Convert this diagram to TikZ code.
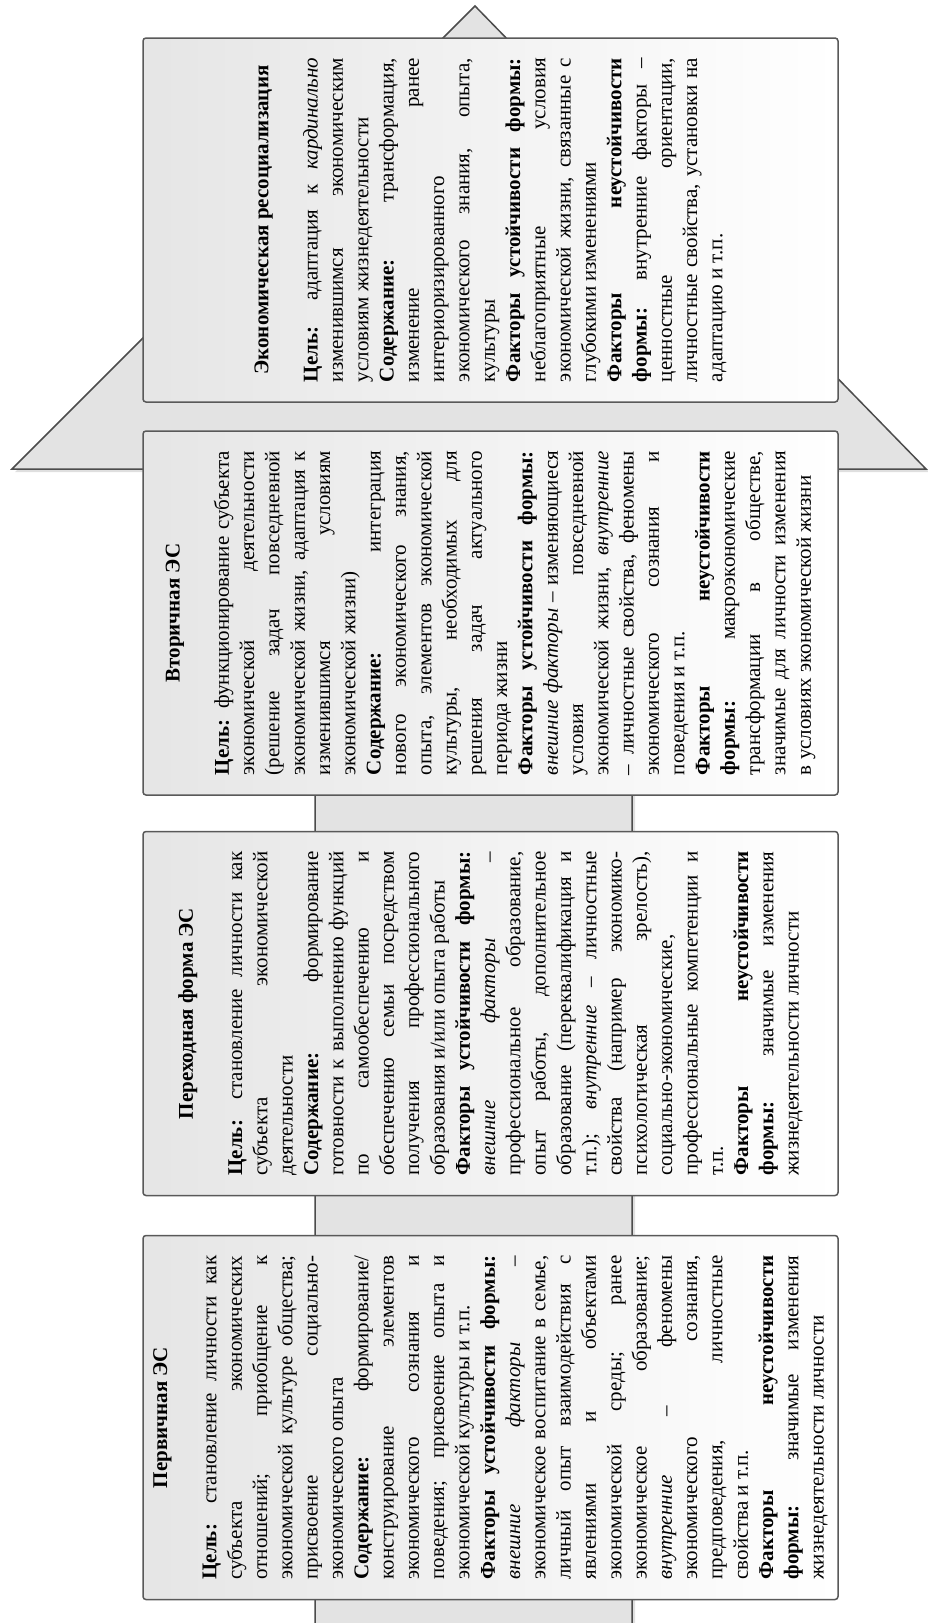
\documentclass[tikz,border=0pt]{standalone}
\usepackage{fontspec}
\setmainfont{Liberation Serif}
\usetikzlibrary{shadows}
\newlength\LW \setlength\LW{324pt}
\newcommand\JL[1]{\hbox to\LW{#1}}
\newcommand\LL[1]{\hbox to\LW{#1\hfil}}
\newcommand\TL[1]{\hbox to\LW{\hfil\textbf{#1}\hfil}\vskip 24pt}
\newcommand\B[1]{\textbf{#1}}
\newcommand\I[1]{\textit{#1}}
\newcommand\blk[1]{\vbox{\fontsize{21}{25.3}\selectfont\baselineskip=25.3pt #1}}
\tikzset{
  esbox/.style={draw=black!65, line width=1.5pt, rounded corners=3pt,
    left color=black!10, right color=white, minimum width=695pt,
    minimum height=364pt, inner sep=0pt},
  estext/.style={rotate=90, inner sep=0pt},
  bigarrow/.style={draw=black!70, line width=1.5pt, fill=black!11, line join=miter,
    drop shadow={shadow xshift=3pt, shadow yshift=-3pt, opacity=0.25}}
}
\begin{document}
\begin{tikzpicture}[x=1pt,y=-1pt]
\useasboundingbox (0,0) rectangle (928,1623);
\fill[white] (0,0) rectangle (928,1623);
% big arrow
\path[bigarrow] (12,469) -- (315,469) -- (315,1640) -- (632,1640) -- (632,469)
  -- (926,469) -- (475,6) -- cycle;
% boxes
\node[esbox] (b4) at (490.5,220) {};
\node[esbox] (b3) at (490.5,613) {};
\node[esbox] (b2) at (490.5,1013.5) {};
\node[esbox] (b1) at (490.5,1417.5) {};
% texts
\node[estext] (t4) at (b4.center) {\blk{%
\TL{Экономическая ресоциализация}
\JL{\B{Цель:} адаптация к \I{кардинально}}
\JL{изменившимся экономическим}
\LL{условиям жизнедеятельности}
\JL{\B{Содержание:} трансформация,}
\JL{изменение ранее}
\LL{интериоризированного}
\JL{экономического знания, опыта,}
\LL{культуры}
\JL{\B{Факторы устойчивости формы:}}
\JL{неблагоприятные условия}
\JL{экономической жизни, связанные с}
\LL{глубокими изменениями}
\JL{\B{Факторы неустойчивости}}
\JL{\B{формы:} внутренние факторы –}
\JL{ценностные ориентации,}
\JL{личностные свойства, установки на}
\LL{адаптацию и т.п.}
}};
\node[estext] (t3) at (b3.center) {\blk{%
\TL{Вторичная ЭС}
\JL{\B{Цель:} функционирование субъекта}
\JL{экономической деятельности}
\JL{(решение задач повседневной}
\JL{экономической жизни, адаптация к}
\JL{изменившимся условиям}
\LL{экономической жизни)}
\JL{\B{Содержание:} интеграция}
\JL{нового экономического знания,}
\JL{опыта, элементов экономической}
\JL{культуры, необходимых для}
\JL{решения задач актуального}
\LL{периода жизни}
\JL{\B{Факторы устойчивости формы:}}
\JL{\I{внешние факторы} – изменяющиеся}
\JL{условия повседневной}
\JL{экономической жизни, \I{внутренние}}
\JL{– личностные свойства, феномены}
\JL{экономического сознания и}
\LL{поведения и т.п.}
\JL{\B{Факторы неустойчивости}}
\JL{\B{формы:} макроэкономические}
\JL{трансформации в обществе,}
\JL{значимые для личности изменения}
\LL{в условиях экономической жизни}
}};
\node[estext] (t2) at (b2.center) {\blk{%
\TL{Переходная форма ЭС}
\JL{\B{Цель:} становление личности как}
\JL{субъекта экономической}
\LL{деятельности}
\JL{\B{Содержание:} формирование}
\JL{готовности к выполнению функций}
\JL{по самообеспечению и}
\JL{обеспечению семьи посредством}
\JL{получения профессионального}
\LL{образования и/или опыта работы}
\JL{\B{Факторы устойчивости формы:}}
\JL{\I{внешние факторы} –}
\JL{профессиональное образование,}
\JL{опыт работы, дополнительное}
\JL{образование (переквалификация и}
\JL{т.п.); \I{внутренние} – личностные}
\JL{свойства (например экономико-}
\JL{психологическая зрелость),}
\LL{социально-экономические,}
\JL{профессиональные компетенции и}
\LL{т.п.}
\JL{\B{Факторы неустойчивости}}
\JL{\B{формы:} значимые изменения}
\LL{жизнедеятельности личности}
}};
\node[estext] (t1) at (b1.center) {\blk{%
\TL{Первичная ЭС}
\JL{\B{Цель:} становление личности как}
\JL{субъекта экономических}
\JL{отношений; приобщение к}
\JL{экономической культуре общества;}
\JL{присвоение социально-}
\LL{экономического опыта}
\JL{\B{Содержание:} формирование/}
\JL{конструирование элементов}
\JL{экономического сознания и}
\JL{поведения; присвоение опыта и}
\LL{экономической культуры и т.п.}
\JL{\B{Факторы устойчивости формы:}}
\JL{\I{внешние факторы} –}
\JL{экономическое воспитание в семье,}
\JL{личный опыт взаимодействия с}
\JL{явлениями и объектами}
\JL{экономической среды; ранее}
\JL{экономическое образование;}
\JL{\I{внутренние} – феномены}
\JL{экономического сознания,}
\JL{предповедения, личностные}
\LL{свойства и т.п.}
\JL{\B{Факторы неустойчивости}}
\JL{\B{формы:} значимые изменения}
\LL{жизнедеятельности личности}
}};
\end{tikzpicture}
\end{document}
